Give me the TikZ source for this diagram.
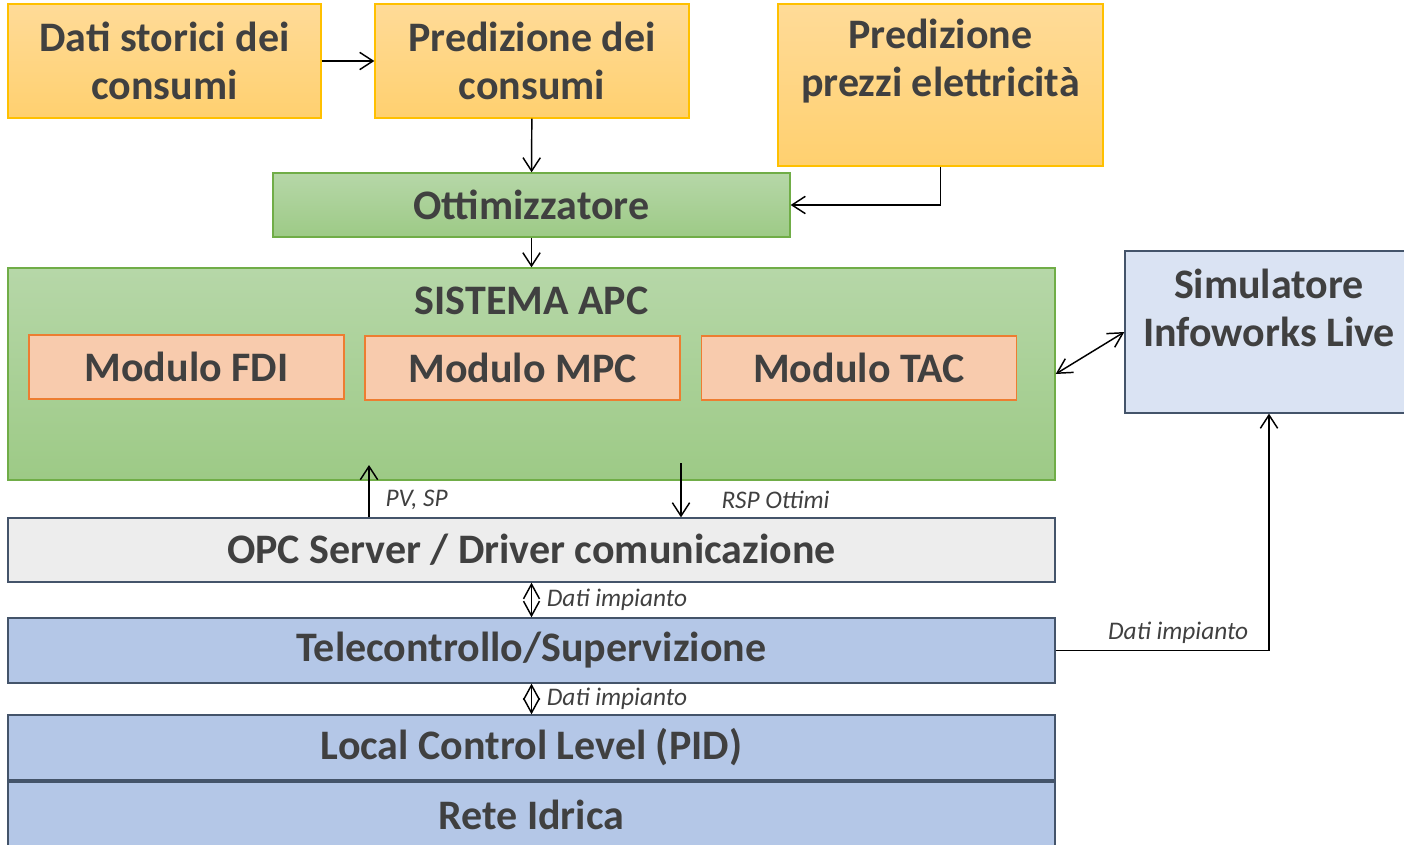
\documentclass[tikz,border=0pt]{standalone}
\usepackage{fontspec}
\setmainfont{Carlito}
\usetikzlibrary{arrows.meta,positioning,calc}
\definecolor{txtgray}{HTML}{404040}
\definecolor{amber}{HTML}{FFC000}
\definecolor{amberlight}{HTML}{FFDB98}
\definecolor{amberdark}{HTML}{FFD06F}
\definecolor{leaf}{HTML}{70AD47}
\definecolor{leaflight}{HTML}{B6D7A8}
\definecolor{leafdark}{HTML}{9DCA86}
\definecolor{salmon}{HTML}{F8CBAD}
\definecolor{tangerine}{HTML}{ED7D31}
\definecolor{slate}{HTML}{44546A}
\definecolor{skyblue}{HTML}{B4C7E7}
\definecolor{paleblue}{HTML}{DAE3F3}
\definecolor{silver}{HTML}{EDEDED}

\begin{document}
\begin{tikzpicture}[
    x=0.75pt, y=-0.75pt,
    every node/.style={text=txtgray},
    boxtext/.style={align=center, font=\fontsize{31.5}{36}\selectfont\bfseries},
    box/.style={rectangle, inner sep=0pt, boxtext, line width=1pt},
    inputbox/.style={box, draw=amber, top color=amberlight, bottom color=amberdark},
    greenbox/.style={box, draw=leaf, top color=leaflight, bottom color=leafdark},
    modulebox/.style={box, draw=tangerine, fill=salmon, minimum width=236.25pt, minimum height=48pt},
    layerbox/.style={box, draw=slate, minimum width=785.25pt},
    flowlabel/.style={font=\fontsize{19}{22}\selectfont\itshape, inner sep=2pt},
    arr/.style={-{Straight Barb[length=10pt,width=13pt]}, line width=1.1pt, black},
    dblarr/.style={{Straight Barb[length=11pt,width=12pt]}-{Straight Barb[length=11pt,width=12pt]}, line width=1.1pt, black},
]
\useasboundingbox (0,0) rectangle (1404,845);
\clip (0,0) rectangle (1404,845);

% Inputs
\node[inputbox, minimum width=234.75pt, minimum height=85.5pt] (storici) at (164.5,61) {Dati storici dei\\consumi};
\node[inputbox, minimum width=235.5pt, minimum height=85.5pt] (predcons) at (532,61) {Predizione dei\\consumi};
\node[inputbox, minimum width=243.75pt, minimum height=121.5pt] (predprezzi) at (940.5,85) {};
\node[boxtext] (prezzitxt) at (940.5,61) {Predizione\\prezzi elettricità};

% Optimizer
\node[greenbox, minimum width=387.75pt, minimum height=48pt] (ottim) at (531.5,205) {Ottimizzatore};

% APC system with its modules
\node[greenbox, minimum width=785.25pt, minimum height=159pt] (apc) at (531.5,374) {};
\node[boxtext] (apctitle) at (531.5,301) {SISTEMA APC};
\node[modulebox] (fdi) at (186.5,367) {Modulo FDI};
\node[modulebox] (mpc) at (522.5,368) {Modulo MPC};
\node[modulebox] (tac) at (859,368) {Modulo TAC};

% Simulator
\node[box, draw=slate, fill=paleblue, minimum width=216pt, minimum height=121.5pt] (sim) at (1269,332) {};
\node[boxtext] (simtxt) at (1269,307.5) {Simulatore\\Infoworks Live};

% Field layers
\node[layerbox, fill=silver, minimum height=48pt] (opc) at (531.5,550) {OPC Server / Driver comunicazione};
\node[layerbox, fill=skyblue, minimum height=48.75pt] (tele) at (531.5,650.5) {Telecontrollo/Supervizione};
\node[layerbox, fill=skyblue, minimum height=48.75pt] (local) at (531.5,747.5) {Local Control Level (PID)};
\node[layerbox, fill=skyblue, minimum height=49.5pt] (rete) at (531.5,815) {Rete Idrica};

% Arrows
\draw[arr] (storici) -- (predcons);
\draw[arr] (predcons) -- (ottim);
\draw[arr] (predprezzi.south) |- (ottim.east);
\draw[arr] (ottim) -- (apc);
\draw[dblarr] (apc.east) -- (sim.west);

\coordinate (pvtop) at (369,465);
\coordinate (rsptop) at (681,463);
\draw[arr] (opc.north -| pvtop) -- (pvtop)
    node[pos=0.34, right=10pt, flowlabel] {PV, SP};
\draw[arr] (rsptop) -- (opc.north -| rsptop)
    node[pos=0.67, right=28pt, flowlabel] {RSP Ottimi};

\draw[dblarr] (opc.south) -- (tele.north)
    node[midway, right=9pt, flowlabel] {Dati impianto};
\draw[dblarr] (tele.south) -- (local.north)
    node[midway, right=9pt, flowlabel] {Dati impianto};
\draw[arr] (tele.east) -| (sim.south)
    node[pos=0.5, anchor=south east, xshift=-13pt, yshift=3pt, flowlabel] {Dati impianto};

\end{tikzpicture}
\end{document}
